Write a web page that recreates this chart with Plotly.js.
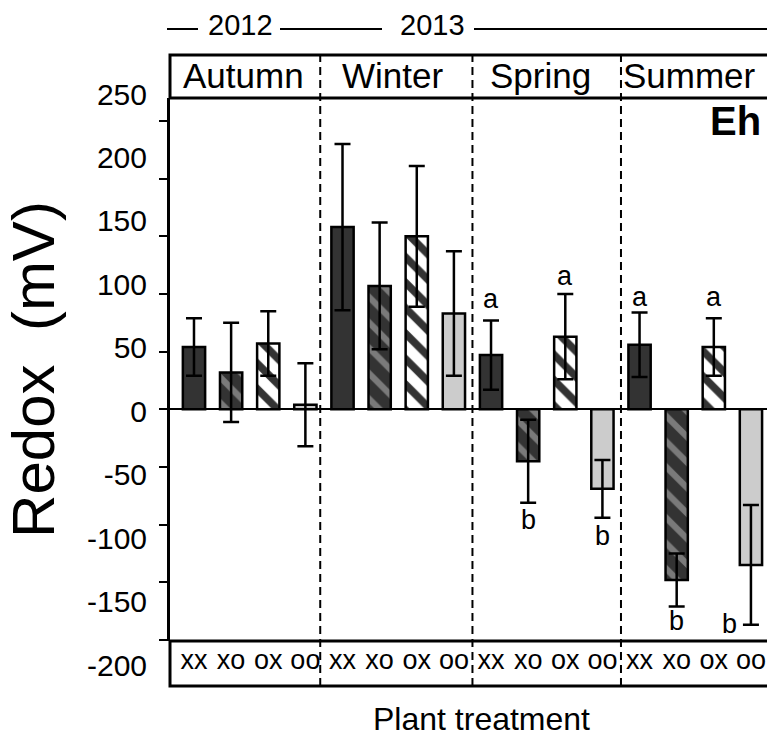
<!DOCTYPE html>
<html>
<head>
<meta charset="utf-8">
<script src="https://cdn.plot.ly/plotly-3.0.1.min.js"></script>
<style>
  html, body { margin: 0; padding: 0; overflow: hidden; background: #fff; }
  #chart { width: 800px; height: 738px; }
</style>
</head>
<body>
<div id="chart"></div>
<script>
// Seasons, years and plant treatments
const seasons = ['Autumn', 'Winter', 'Spring', 'Summer'];
const years = ['2012', '2013'];
const treatments = ['xx', 'xo', 'ox', 'oo'];

// Mean redox potential (mV) per season, one array per treatment
const redoxXX = [54, 158, 47, 56];
const redoxXO = [32, 107, -45, -148];
const redoxOX = [57, 150, 63, 54];
const redoxOO = [4, 83, -69, -135];

// Error bar half-lengths (mV)
const errXX = [25, 72, 30, 28];
const errXO = [43, 55, 36, 23];
const errOX = [28, 61, 37, 25];
const errOO = [36, 54, 25, 52];

// Y axis tick values
const yTicks = [-200, -150, -100, -50, 0, 50, 100, 150, 200, 250];

// Significance letters: season, treatment, letter, height (mV)
const letterSeason = ['Spring', 'Spring', 'Spring', 'Spring', 'Summer', 'Summer', 'Summer', 'Summer'];
const letterTreatment = ['xx', 'xo', 'ox', 'oo', 'xx', 'xo', 'ox', 'oo'];
const letterText = ['a', 'b', 'a', 'b', 'a', 'b', 'a', 'b'];
const letterY = [96, -96, 116, -110, 97, -184, 97, -186];

// ---- geometry of the figure (pixels) ----
const W = 800, H = 738;
const L = 170, R = 775, T = 55, B = 686;
const px2x = p => (p - L) / (R - L);
const py2y = p => (B - p) / (B - T);
const HEADER_BOTTOM = 98, LABELS_TOP = 641;
const FONT = 'Liberation Sans, Arial, sans-serif';

const values = [redoxXX, redoxXO, redoxOX, redoxOO];
const errors = [errXX, errXO, errOX, errOO];
const barPos = (si, ti) => si * 4 + ti;

const styles = [
  { color: '#333333' },
  { color: '#333333', pattern: { shape: '\\', bgcolor: '#333333', fgcolor: '#7a7a7a', size: 18, solidity: 0.35, fillmode: 'replace' } },
  { color: '#ffffff', pattern: { shape: '\\', bgcolor: '#ffffff', fgcolor: '#333333', size: 18, solidity: 0.42, fillmode: 'replace' } },
  { color: '#cccccc' }
];

const traces = treatments.map((t, ti) => ({
  type: 'bar',
  name: t,
  x: seasons.map((s, si) => barPos(si, ti)),
  y: values[ti],
  width: 0.6,
  showlegend: false,
  marker: Object.assign({ line: { color: '#000', width: 2.5 } }, styles[ti]),
  error_y: { type: 'data', array: errors[ti], visible: true, color: '#000', thickness: 2.5, width: 8 }
}));
// empty trace that carries the labelled value axis
traces.push({ type: 'scatter', mode: 'none', x: [], y: [], yaxis: 'y2', showlegend: false, hoverinfo: 'skip' });

const tickVals = [];
const tickText = [];
seasons.forEach((s, si) => treatments.forEach((t, ti) => { tickVals.push(barPos(si, ti)); tickText.push(t); }));

const dividers = [3.4, 7.5, 11.5];

const shapes = [
  // season header box
  { type: 'rect', xref: 'paper', yref: 'paper', x0: 0, x1: 1, y0: py2y(HEADER_BOTTOM), y1: py2y(T), line: { color: '#000', width: 3 } },
  // treatment label box
  { type: 'rect', xref: 'paper', yref: 'paper', x0: 0, x1: 1, y0: py2y(B), y1: py2y(LABELS_TOP), line: { color: '#000', width: 3 } }
];
dividers.forEach(d => shapes.push({
  type: 'line', xref: 'x', yref: 'paper', x0: d, x1: d, y0: 0, y1: 1,
  line: { color: '#000', width: 2, dash: '8px,5px' }
}));
// year timeline segments
[[167, 198], [280, 382], [474, 800]].forEach(seg => shapes.push({
  type: 'line', xref: 'paper', yref: 'paper', x0: px2x(seg[0]), x1: px2x(seg[1]),
  y0: py2y(29), y1: py2y(29), line: { color: '#000', width: 2 }
}));

const annotations = [];
seasons.forEach((s, si) => annotations.push({
  xref: 'x', yref: 'paper', x: barPos(si, 1.5), y: py2y(75), text: s, showarrow: false,
  xanchor: 'center', yanchor: 'middle', xshift: -6, font: { family: FONT, size: 35, color: '#000' }
}));
[240, 432].forEach((cx, yi) => annotations.push({
  xref: 'paper', yref: 'paper', x: px2x(cx), y: py2y(25), text: years[yi], showarrow: false,
  xanchor: 'center', yanchor: 'middle', font: { family: FONT, size: 29, color: '#000' }
}));
annotations.push({
  xref: 'paper', yref: 'paper', x: px2x(708), y: py2y(121), text: '<b>Eh</b>', showarrow: false,
  xanchor: 'left', yanchor: 'middle', font: { family: FONT, size: 40, color: '#000' }
});
annotations.push({
  xref: 'paper', yref: 'paper', x: px2x(481), y: py2y(719), text: 'Plant treatment', showarrow: false,
  xanchor: 'center', yanchor: 'middle', font: { family: FONT, size: 32, color: '#000' }
});
letterText.forEach((txt, i) => {
  const si = seasons.indexOf(letterSeason[i]);
  const ti = treatments.indexOf(letterTreatment[i]);
  const beside = (letterSeason[i] === 'Summer' && letterTreatment[i] === 'oo');
  annotations.push({
    xref: 'x', yref: 'y', x: barPos(si, ti), y: letterY[i], text: txt, showarrow: false,
    xanchor: 'center', yanchor: 'middle', xshift: beside ? -21 : 0,
    font: { family: FONT, size: 27, color: '#000' }
  });
});

const layout = {
  width: W, height: H,
  margin: { l: L, r: W - R, t: T, b: H - B, pad: 0 },
  paper_bgcolor: '#fff', plot_bgcolor: 'rgba(0,0,0,0)',
  barmode: 'overlay',
  font: { family: FONT, color: '#000' },
  xaxis: {
    range: [-0.646, 15.648], domain: [0, 1], anchor: 'y',
    tickmode: 'array', tickvals: tickVals, ticktext: tickText,
    ticks: '', showline: false, showgrid: false, zeroline: false,
    tickfont: { family: FONT, size: 27, color: '#000' }, automargin: false
  },
  yaxis: {
    domain: [py2y(LABELS_TOP), py2y(HEADER_BOTTOM)], range: [-201, 270], anchor: 'x',
    tickmode: 'array', tickvals: yTicks, ticks: 'outside', ticklen: 8, tickwidth: 2, tickcolor: '#000',
    showticklabels: false, showline: true, linewidth: 3, linecolor: '#000',
    showgrid: false, zeroline: true, zerolinecolor: '#000', zerolinewidth: 2, automargin: false,
    title: { text: 'Redox\u00a0\u00a0(mV)', font: { family: FONT, size: 60, color: '#000' }, standoff: 92 }
  },
  yaxis2: {
    domain: [py2y(665), py2y(94)], range: [-200, 250], anchor: 'x',
    tickmode: 'array', tickvals: yTicks, ticktext: yTicks.map(String),
    ticks: '', showline: false, showgrid: false, zeroline: false,
    tickfont: { family: FONT, size: 30, color: '#000' }, ticklabelstandoff: 22, automargin: false
  },
  shapes: shapes,
  annotations: annotations
};

Plotly.newPlot('chart', traces, layout, { staticPlot: true, displayModeBar: false });
</script>
</body>
</html>
